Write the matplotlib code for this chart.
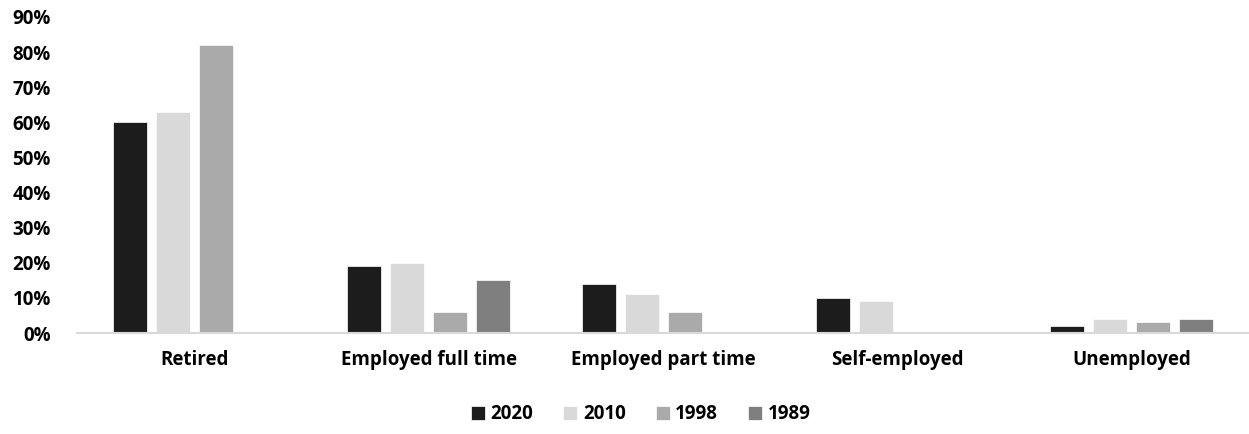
import numpy as np
import matplotlib.pyplot as plt
from matplotlib.ticker import PercentFormatter

categories = ['Retired', 'Employed full time', 'Employed part time', 'Self-employed', 'Unemployed']
years = ['2020', '2010', '1998', '1989']
v2020 = [0.60, 0.19, 0.14, 0.10, 0.02]
v2010 = [0.63, 0.20, 0.11, 0.09, 0.04]
v1998 = [0.82, 0.06, 0.06, 0.0, 0.03]
v1989 = [0.0, 0.15, 0.0, 0.0, 0.04]
colors = ['#1c1c1c', '#d9d9d9', '#aaaaaa', '#7f7f7f']

plt.rcParams['font.family'] = ['Open Sans', 'DejaVu Sans']
plt.rcParams['font.weight'] = 'bold'

fig = plt.figure(figsize=(12.49, 4.34), dpi=100)
ax = fig.add_axes([0.0618, 0.2327, 0.9382, 0.7283])

x = np.arange(len(categories))
width = 0.145
step = 0.183
for i, (vals, yr) in enumerate(zip([v2020, v2010, v1998, v1989], years)):
    ax.bar(x + (i - 1.5) * step, vals, width, color=colors[i], label=yr,
           edgecolor='white', linewidth=0.5)

ax.set_xlim(-0.5, 4.5)
ax.set_ylim(0, 0.9)
ax.set_yticks(np.arange(0, 0.91, 0.1))
ax.yaxis.set_major_formatter(PercentFormatter(1.0, decimals=0))
ax.set_xticks(x)
ax.set_xticklabels(categories)
ax.tick_params(axis='both', length=0, labelsize=13.5)
ax.tick_params(axis='x', pad=12)
ax.tick_params(axis='y', pad=19)
for s in ['top', 'right', 'left']:
    ax.spines[s].set_visible(False)
ax.spines['bottom'].set_color('#d9d9d9')
ax.spines['bottom'].set_linewidth(1.5)

fig.legend(loc='center', bbox_to_anchor=(0.513, 0.045), ncol=4, frameon=False,
           fontsize=13.5, handlelength=0.75, handleheight=0.75, handletextpad=0.3,
           columnspacing=1.6)

fig.savefig('out.png', dpi=100)
